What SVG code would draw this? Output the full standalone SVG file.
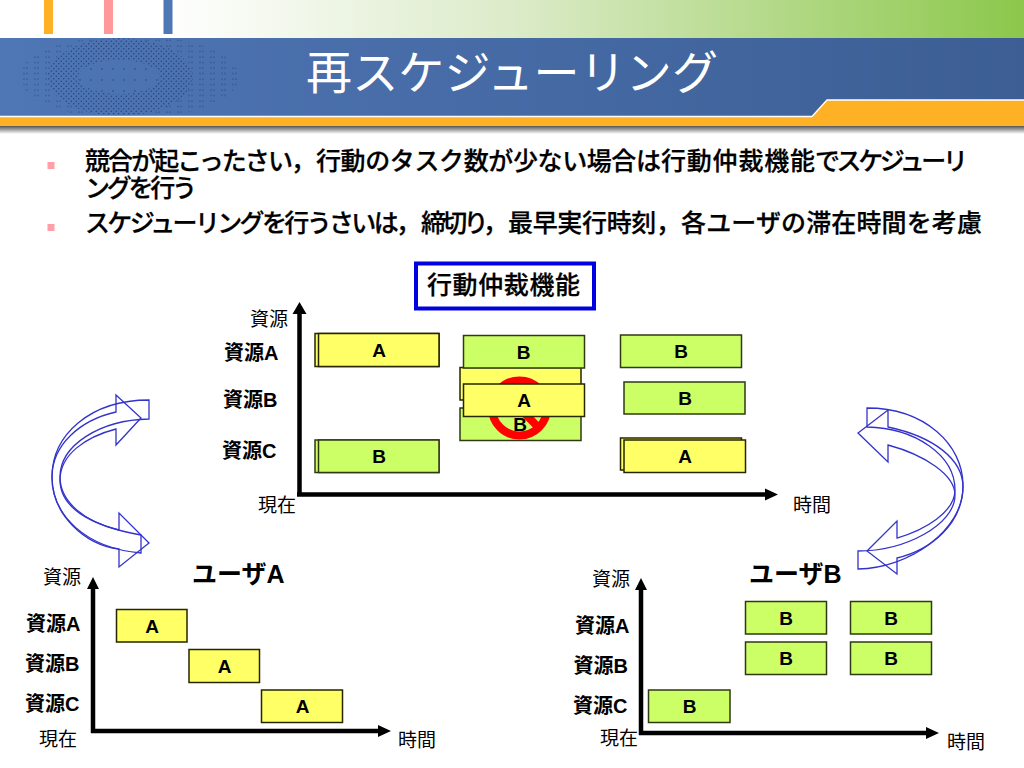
<svg xmlns="http://www.w3.org/2000/svg" width="1024" height="768" viewBox="0 0 1024 768">
<style>
text{font-family:"Liberation Sans","Noto Sans CJK JP",sans-serif;fill:#000}
.t{font-size:19px}
.r{font-size:20px;font-weight:700}
.l{font-size:19px;font-weight:700;text-anchor:middle}
.b{font-size:25px;font-weight:500;stroke:#000;stroke-width:.25px}
.y{fill:#ffff66;stroke:#262600;stroke-width:1.5}
.g{fill:#ccff66;stroke:#2f3a14;stroke-width:1.5}
.ax{fill:none;stroke:#000;stroke-width:4.5}
.cv{fill:none;stroke:#3333cc;stroke-width:1.3}
</style>
<defs>
<linearGradient id="top" x1="0" x2="1" y1="0" y2="0"><stop offset=".16" stop-color="#fff"/><stop offset=".5" stop-color="#dcebc9"/><stop offset="1" stop-color="#8cc84b"/></linearGradient>
<linearGradient id="ban" x1="0" x2="1" y1="0" y2="0"><stop offset="0" stop-color="#4f76b5"/><stop offset="1" stop-color="#3c5e94"/></linearGradient>
<linearGradient id="sh" x1="0" x2="0" y1="0" y2="1"><stop offset="0" stop-color="#555"/><stop offset="1" stop-color="#fff"/></linearGradient>
<pattern id="d0" width="11" height="5.500" patternUnits="userSpaceOnUse"><circle cx="2" cy="2" r=".6" fill="#1f3f78"/><circle cx="5" cy="2" r=".6" fill="#1f3f78"/></pattern>
<pattern id="d1" width="11" height="11" patternUnits="userSpaceOnUse"><circle cx="3" cy="3" r=".7" fill="#1f3f78"/></pattern>
<pattern id="d2" width="5" height="5" patternUnits="userSpaceOnUse"><circle cx="1.250" cy="1.250" r=".7" fill="#1f3f78"/><circle cx="3.750" cy="3.750" r=".7" fill="#1f3f78"/></pattern>
<clipPath id="bc"><rect y="38" width="1024" height="78"/></clipPath>
</defs>
<rect width="1024" height="768" fill="#fff"/>
<g id="header">
<rect width="1024" height="38" fill="url(#top)"/>
<rect x="44" width="9" height="34" fill="#ffb126"/>
<rect x="104" width="9" height="34" fill="#ff9999"/>
<rect x="163.500" width="9" height="34" fill="#4f76b5"/>
<rect y="38" width="1024" height="79" fill="url(#ban)"/>
<rect y="126" width="1024" height="8" fill="url(#sh)"/>
<g clip-path="url(#bc)">
<path fill-rule="evenodd" d="M19,77a110,42 0 1 0 220,0a110,42 0 1 0 -220,0zM48,77a72,39 0 1 1 144,0a72,39 0 1 1 -144,0z" fill="url(#d0)"/>
<path fill-rule="evenodd" d="M48,77a72,39 0 1 0 144,0a72,39 0 1 0 -144,0zM78,77a41,17 0 1 1 82,0a41,17 0 1 1 -82,0z" fill="url(#d2)"/>
<ellipse cx="119" cy="77" rx="41" ry="17" fill="url(#d1)"/>
</g>
<path d="M0,116.500H812L827,100H1024V126H0Z" fill="#ffb126"/>
<path d="M0,116.500H812L827,100H1024" fill="none" stroke="#fff" stroke-width="1.300"/>
<text x="306" y="89" textLength="412" style="font-size:46px;fill:#fff">再スケジューリング</text>
</g>
<g id="bullets">
<rect x="47.500" y="162" width="7" height="7" fill="#ff9fa8"/>
<rect x="47.500" y="224" width="7" height="7" fill="#ff9fa8"/>
<text class="b" y="170"><tspan x="85" textLength="231">競合が起こったさい，</tspan><tspan x="316" textLength="345">行動のタスク数が少ない場合は</tspan><tspan x="661" textLength="154">行動仲裁機能</tspan><tspan x="815" textLength="153">でスケジューリ</tspan></text>
<text class="b" x="85" y="197" textLength="112">ングを行う</text>
<text class="b" y="232"><tspan x="85" textLength="336">スケジューリングを行うさいは，</tspan><tspan x="421" textLength="87">締切り，</tspan><tspan x="508" textLength="173">最早実行時刻，</tspan><tspan x="681" textLength="301">各ユーザの滞在時間を考慮</tspan></text>
</g>
<g id="title-box">
<rect x="416" y="263.500" width="178" height="45" fill="#fff" stroke="#0000e0" stroke-width="4"/>
<text x="427" y="294" textLength="153" style="font-size:25px;font-weight:500;stroke:#000;stroke-width:.25px">行動仲裁機能</text>
</g>
<g id="connectors">
<path class="ax" d="M299.500,496V312M297,494.500H768"/>
<path d="M299.500,302l-7,12h14zM778,494.500l-13,-6v12z"/>
<path class="ax" d="M93,733V587M91,731H381"/>
<path d="M93,577l-6,12h12zM391,731l-13,-6v12z"/>
<path class="ax" d="M641,735V588M639,733H929"/>
<path d="M641,578l-6,12h12zM939,733l-13,-6v12z"/>
<path class="cv" d="M141,535C85,525 60,505 60,480C60,455 85,437 116,429V445L141,418L116,395V412C80,420 52,445 52,477C52,515 85,548 141,553Z"/>
<path class="cv" d="M149,400C90,400 52,435 52,477C52,515 85,545 119,549V567L149,543L119,513V530C85,522 60,502 60,477C60,445 100,420 149,419Z"/>
<path class="cv" d="M867,408C925,408 963,445 963,485C963,525 930,550 897,558V574L867,551L897,521V538C925,530 955,512 955,490C955,455 915,428 867,427Z"/>
<path class="cv" d="M858,569C910,568 963,530 963,487C963,460 935,437 888,427V410L858,433L888,462V445C925,455 955,475 955,495C955,525 905,551 858,551Z"/>
</g>
<g id="axis-labels">
<text class="t" x="250" y="326">資源</text><text class="r" x="224" y="360">資源A</text><text class="r" x="223" y="407">資源B</text><text class="r" x="222" y="458">資源C</text><text class="t" x="258" y="512">現在</text><text class="t" x="793" y="512">時間</text>
<text class="t" x="43" y="584">資源</text><text class="r" x="26" y="631">資源A</text><text class="r" x="25" y="671">資源B</text><text class="r" x="25" y="711">資源C</text><text class="t" x="39" y="746">現在</text><text class="t" x="398" y="747">時間</text>
<text class="t" x="592" y="586">資源</text><text class="r" x="575" y="633">資源A</text><text class="r" x="573.500" y="673">資源B</text><text class="r" x="573" y="713">資源C</text><text class="t" x="600" y="745">現在</text><text class="t" x="947" y="749">時間</text>
<text x="192" y="583" style="font-size:25px;font-weight:700">ユーザA</text>
<text x="749" y="583" style="font-size:25px;font-weight:700">ユーザB</text>
</g>
<g id="node-top-a1"><rect class="y" x="315" y="333.500" width="124" height="33"/><rect class="y" x="318.500" y="333.500" width="120.500" height="33"/><text class="l" x="379" y="357">A</text></g>
<g id="node-top-b3"><rect class="g" x="315" y="440" width="124" height="32.500"/><rect class="g" x="318.500" y="440" width="120.500" height="32.500"/><text class="l" x="379" y="463">B</text></g>
<g id="node-conflict">
<rect class="y" x="460" y="367.500" width="121" height="32.500"/>
<rect class="g" x="460" y="408" width="121" height="32.500"/>
<text class="l" x="520" y="431">B</text>
<circle cx="519.500" cy="408" r="27.500" fill="none" stroke="#ff0000" stroke-width="8"/>
<path d="M500,388L539,428" stroke="#ff0000" stroke-width="8"/>
<rect class="g" x="463.500" y="335.500" width="121" height="32.500"/><text class="l" x="523.500" y="359">B</text>
<rect class="y" x="463.500" y="384" width="121" height="32.500"/><text class="l" x="524" y="407">A</text>
</g>
<g id="node-top-r1"><rect class="g" x="620.500" y="335" width="121" height="32.500"/><text class="l" x="681" y="358">B</text></g>
<g id="node-top-r2"><rect class="g" x="624" y="382" width="121" height="32"/><text class="l" x="685" y="405">B</text></g>
<g id="node-top-r3"><rect class="y" x="620.500" y="438" width="121" height="32"/><rect class="y" x="624" y="440" width="121.500" height="32.500"/><text class="l" x="685" y="463">A</text></g>
<g id="node-ua1"><rect class="y" x="116.500" y="609.500" width="70.500" height="32.500"/><text class="l" x="152" y="633">A</text></g>
<g id="node-ua2"><rect class="y" x="189" y="649.500" width="70.500" height="33"/><text class="l" x="224.500" y="673">A</text></g>
<g id="node-ua3"><rect class="y" x="261.500" y="690" width="81" height="32.500"/><text class="l" x="302.500" y="713">A</text></g>
<g id="node-ub1"><rect class="g" x="745.500" y="601.500" width="81" height="32.500"/><text class="l" x="786" y="625">B</text></g>
<g id="node-ub2"><rect class="g" x="850.500" y="601.500" width="81" height="32.500"/><text class="l" x="891" y="625">B</text></g>
<g id="node-ub3"><rect class="g" x="745.500" y="642" width="81" height="32.500"/><text class="l" x="786" y="665">B</text></g>
<g id="node-ub4"><rect class="g" x="850.500" y="642" width="81" height="32.500"/><text class="l" x="891" y="665">B</text></g>
<g id="node-ub5"><rect class="g" x="648.500" y="690" width="81.500" height="32.500"/><text class="l" x="689.500" y="713">B</text></g>
</svg>
